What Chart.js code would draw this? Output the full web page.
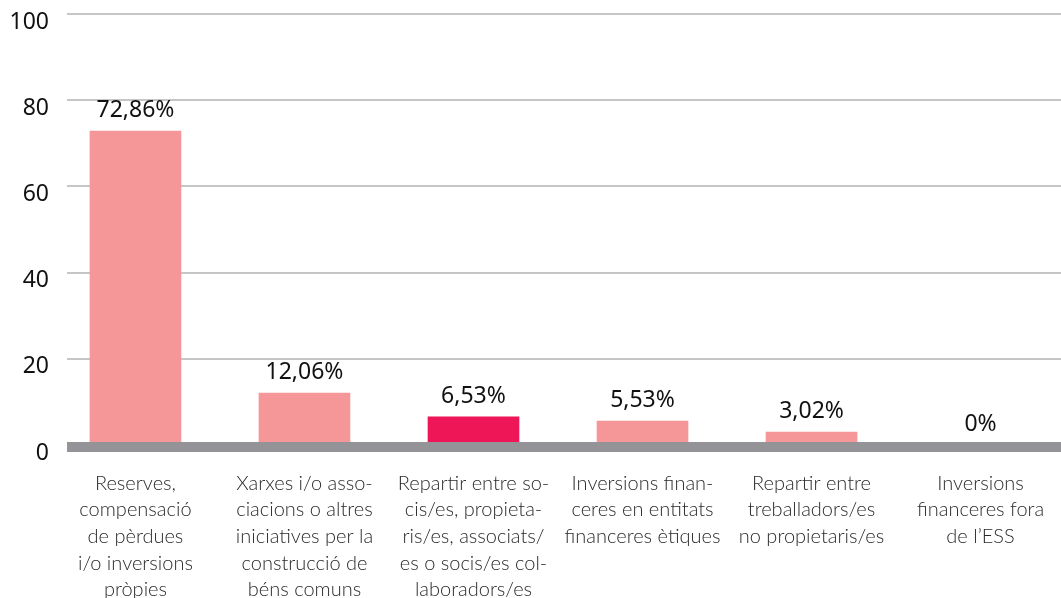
<!DOCTYPE html>
<html>
<head>
<meta charset="utf-8">
<script src="https://cdn.jsdelivr.net/npm/chart.js@4"></script>
<style>
  html, body { margin: 0; padding: 0; background: #fff; }
  #wrap { width: 1061px; height: 598px; }
</style>
</head>
<body>
<div id="wrap"><canvas id="grafico"></canvas></div>
<script>
const categories = [
    ["Reserves,", "compensació", "de pèrdues", "i/o inversions", "pròpies"],
    ["Xarxes i/o asso-", "ciacions o altres", "iniciatives per la", "construcció de", "béns comuns"],
    ["Repartir entre so-", "cis/es, propieta-", "ris/es, associats/", "es o socis/es col-", "laboradors/es"],
    ["Inversions finan-", "ceres en entitats", "financeres ètiques"],
    ["Repartir entre", "treballadors/es", "no propietaris/es"],
    ["Inversions", "financeres fora", "de l’ESS"]
];
const valors = [72.86, 12.06, 6.53, 5.53, 3.02, 0];
const etiquetes = ["72,86%", "12,06%", "6,53%", "5,53%", "3,02%", "0%"];
const destacat = 2;
const yTicks = [0, 20, 40, 60, 80, 100];

const rosa = "#f59799";
const vermell = "#ef1658";

// thick grey baseline at zero, drawn over the bar feet, then the value labels
const peuPlugin = {
    id: "peu",
    afterDatasetsDraw(chart) {
        const { ctx, chartArea, scales } = chart;
        const y0 = scales.y.getPixelForValue(0);
        ctx.save();
        ctx.fillStyle = "#949398";
        ctx.fillRect(chartArea.left, y0 - 3, chartArea.right - chartArea.left, 10);

        ctx.fillStyle = "#111";
        ctx.font = "23px 'Noto Sans'";
        ctx.textAlign = "center";
        ctx.textBaseline = "alphabetic";
        chart.getDatasetMeta(0).data.forEach((bar, i) => {
            ctx.fillText(etiquetes[i], bar.x, bar.y - 14);
        });
        ctx.restore();
    }
};

const ctx = document.getElementById("grafico").getContext("2d");
const chart = new Chart(ctx, {
    type: "bar",
    data: {
        datasets: [{
            data: valors.map((v, i) => ({ x: i, y: v })),
            backgroundColor: valors.map((v, i) => i === destacat ? vermell : rosa),
            borderWidth: 0,
            barThickness: 91
        }]
    },
    options: {
        responsive: true,
        maintainAspectRatio: false,
        animation: false,
        layout: { padding: { top: 14, left: 0, right: 0, bottom: 0 } },
        plugins: {
            legend: { display: false },
            tooltip: { enabled: false }
        },
        scales: {
            x: {
                type: "linear",
                min: -0.405,
                max: 5.476,
                offset: false,
                grid: { display: false, drawTicks: false },
                border: { display: false },
                afterBuildTicks: (scale) => {
                    scale.ticks = categories.map((c, i) => ({ value: i }));
                },
                afterFit: (scale) => {
                    scale.height = 153;
                    scale.paddingLeft = 0;
                    scale.paddingRight = 0;
                },
                ticks: {
                    autoSkip: false,
                    maxRotation: 0,
                    padding: 25,
                    color: "#2a2a2a",
                    font: { family: "Lato", size: 20, weight: 300, lineHeight: 1.33 },
                    callback: (value) => categories[value]
                }
            },
            y: {
                min: 0,
                max: 100,
                afterBuildTicks: (scale) => {
                    scale.ticks = yTicks.map(v => ({ value: v }));
                },
                afterFit: (scale) => {
                    scale.width = 67;
                    scale.paddingTop = 0;
                    scale.paddingBottom = 0;
                },
                grid: { color: "#c6c6c6", lineWidth: 2, drawTicks: false },
                border: { display: false },
                ticks: {
                    padding: 18,
                    labelOffset: 8,
                    color: "#111",
                    font: { family: "Noto Sans", size: 23 }
                }
            }
        }
    },
    plugins: [peuPlugin]
});
</script>
</body>
</html>
